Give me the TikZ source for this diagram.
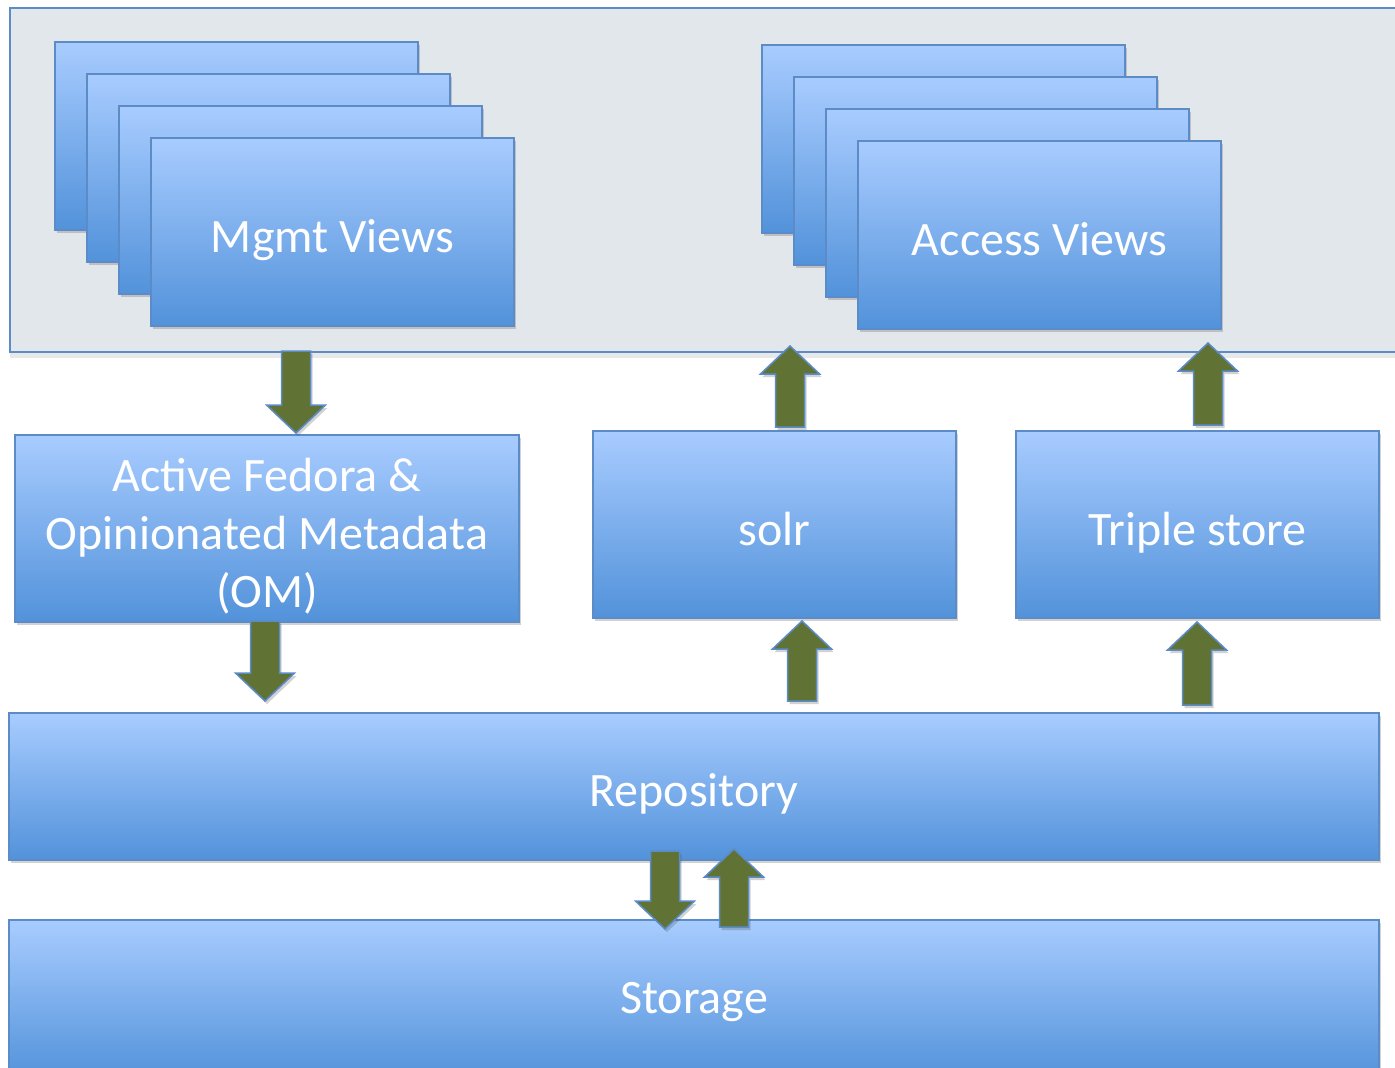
\documentclass[tikz,border=0pt]{standalone}
\usepackage{fontspec}
\setmainfont{Carlito}
\usetikzlibrary{shadows,calc}
\definecolor{boxtop}{RGB}{168,204,255}
\definecolor{boxbot}{RGB}{82,146,218}
\definecolor{boxedge}{RGB}{91,140,200}
\definecolor{panelfill}{RGB}{226,231,236}
\definecolor{arrfill}{RGB}{96,115,53}
\newcommand\lowered[2]{\raisebox{-#1}[\height][\depth]{#2}}
\tikzset{
  softshadow/.style={drop shadow={shadow xshift=2pt, shadow yshift=-3pt, opacity=0.25, fill=black!70}},
  box/.style={draw=boxedge, line width=2pt, top color=boxtop, bottom color=boxbot,
    inner sep=0pt, text=white, font=\fontsize{48}{58}\selectfont, align=center, softshadow},
  panel/.style={draw=boxedge, line width=2pt, fill=panelfill, inner sep=0pt,
    drop shadow={shadow xshift=0pt, shadow yshift=-6pt, opacity=0.15, fill=black!60}},
  blockarrow/.style={fill=arrfill, draw=boxedge, line width=1.5pt, line join=miter, softshadow}
}
\newcommand\blockarr[3]{%
  \draw[blockarrow] let \p1=#1, \p2=#2, \n1={(\y2>\y1)?1:-1} in
    ({#3pt-14.5pt},\y1) -- ({#3pt-14.5pt},{\y2-(\n1)*28pt}) -- ({#3pt-29.5pt},{\y2-(\n1)*28pt})
    -- (#3pt,\y2) -- ({#3pt+29.5pt},{\y2-(\n1)*28pt}) -- ({#3pt+14.5pt},{\y2-(\n1)*28pt})
    -- ({#3pt+14.5pt},\y1) -- cycle;}
\begin{document}
\begin{tikzpicture}[x=1pt,y=-1pt]
\useasboundingbox (0,0) rectangle (1395,1068);
\clip (0,0) rectangle (1395,1068);
\fill[white] (0,0) rectangle (1395,1068);
% top panel
\node[panel, minimum width=1390pt, minimum height=344pt] (panel) at (705,180) {};
% management views stack
\node[box, minimum width=363pt, minimum height=188pt] (mgmt1) at (236.5,136) {};
\node[box, minimum width=363pt, minimum height=188pt] (mgmt2) at (268.5,168) {};
\node[box, minimum width=363pt, minimum height=188pt] (mgmt3) at (300.5,200) {};
\node[box, minimum width=363pt, minimum height=188pt] (mgmt4) at (332.5,232) {\lowered{8pt}{Mgmt Views}};
% access views stack
\node[box, minimum width=363pt, minimum height=188pt] (acc1) at (943.5,139) {};
\node[box, minimum width=363pt, minimum height=188pt] (acc2) at (975.5,171) {};
\node[box, minimum width=363pt, minimum height=188pt] (acc3) at (1007.5,203) {};
\node[box, minimum width=363pt, minimum height=188pt] (acc4) at (1039.5,235) {\lowered{4pt}{Access Views}};
% middle row
\node[box, minimum width=504pt, minimum height=187pt] (af) at (267,528.5)
  {\lowered{8pt}{\parbox{500pt}{\centering Active Fedora \&\\ Opinionated Metadata\\ (OM)}}};
\node[box, minimum width=363pt, minimum height=187pt] (solr) at (774.5,524.5) {\lowered{5pt}{solr}};
\node[box, minimum width=363pt, minimum height=187pt] (triple) at (1197.5,524.5) {\lowered{8pt}{Triple store}};
% bottom layers
\node[box, minimum width=1370pt, minimum height=147pt] (repo) at (694,786.5) {\lowered{7pt}{Repository}};
\node[box, minimum width=1370pt, minimum height=160pt] (storage) at (694,1000) {\lowered{2pt}{Storage}};
% block arrows
\blockarr{($(panel.south)+(0,-2)$)}{($(af.north)+(0,-1)$)}{296}
\blockarr{($(af.south)+(0,-2)$)}{($(repo.north)+(0,-11)$)}{265}
\blockarr{($(repo.north)+(0,-11)$)}{($(solr.south)+(0,2)$)}{802}
\blockarr{($(repo.north)+(0,-7)$)}{($(triple.south)+(0,3)$)}{1197}
\blockarr{($(solr.north)+(0,-3)$)}{($(panel.south)+(0,-7)$)}{790}
\blockarr{($(triple.north)+(0,-5)$)}{($(panel.south)+(0,-10)$)}{1208}
\blockarr{($(repo.south)+(0,-10)$)}{($(storage.north)+(0,10)$)}{665}
\blockarr{($(storage.north)+(0,8)$)}{($(repo.south)+(0,-12)$)}{734}
\end{tikzpicture}
\end{document}
